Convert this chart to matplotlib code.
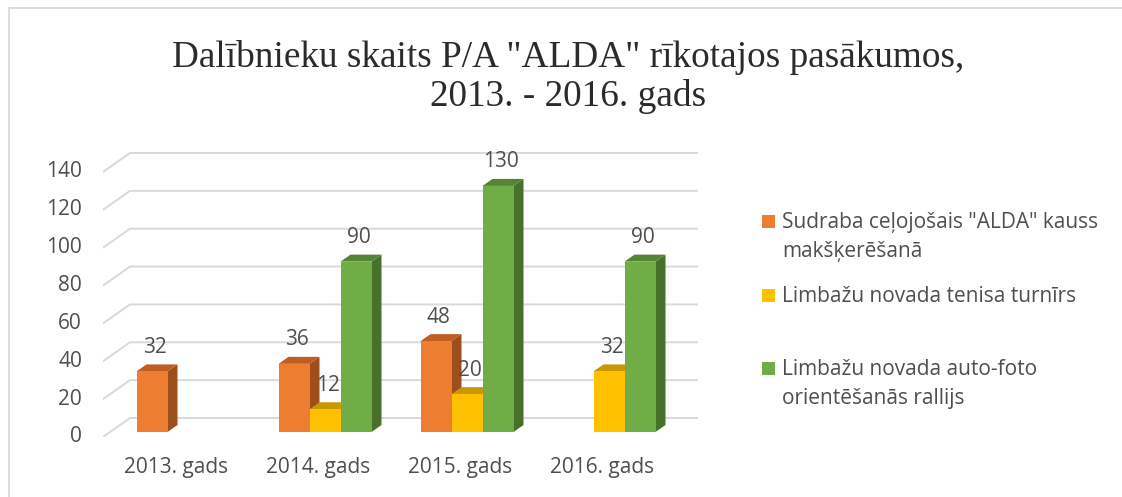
import matplotlib
matplotlib.use('Agg')
import matplotlib.pyplot as plt
from matplotlib.patches import Polygon, Rectangle
import numpy as np

# ---------------- data ----------------
categories = ['2013. gads', '2014. gads', '2015. gads', '2016. gads']
series_names = ['Sudraba ceļojošais "ALDA" kauss\nmakšķerēšanā',
                'Limbažu novada tenisa turnīrs',
                'Limbažu novada auto-foto\norientēšanās rallijs']
sudraba = [32, 36, 48, None]
teniss = [None, 12, 20, 32]
rallijs = [None, 90, 130, 90]
y_ticks = [0, 20, 40, 60, 80, 100, 120, 140]
title = 'Dalībnieku skaits P/A "ALDA" rīkotajos pasākumos,\n2013. - 2016. gads'

# ---------------- style ----------------
front_cols = ['#ED7D31', '#FFC000', '#70AD47']
top_cols = ['#BE5E22', '#C99700', '#568436']
side_cols = ['#9C4E1C', '#B38700', '#47702A']
txt_col = '#4F4F4F'
grid_col = '#D9D9D9'
FONT = 'Open Sans'
FS = 15

W, H = 1122, 497
fig = plt.figure(figsize=(W / 100, H / 100), dpi=100)

# axes geometry (pixel layout)
px_left, px_right, px_bottom, px_top = 103, 698, 437, 140
ax = fig.add_axes([px_left / W, (H - px_bottom) / H,
                   (px_right - px_left) / W, (px_bottom - px_top) / H])
cat_px0, cat_step = 183, 142        # px of category 0 center, px per category
base_px, px_per_unit = 432, 1.893   # px of value 0 at bar front, px per unit
xlo = (px_left - cat_px0) / cat_step
xhi = (px_right - cat_px0) / cat_step
ylo = -(px_bottom - base_px) / px_per_unit
yhi = ylo + (px_bottom - px_top) / px_per_unit
ax.set_xlim(xlo, xhi)
ax.set_ylim(ylo, yhi)
ax.axis('off')

# depth
dx = 10 / cat_step
dy = 7 / px_per_unit
back_off = (base_px - 418) / px_per_unit
x_back = (130 - cat_px0) / cat_step
front_off = ylo

# back wall gridlines + floor diagonal
for g in y_ticks:
    ax.plot([xlo, x_back, xhi], [g + front_off, g + back_off, g + back_off],
            color=grid_col, lw=1.4, zorder=1, solid_capstyle='butt')
    ax.text((82 - cat_px0) / cat_step, g + front_off, str(g), ha='right', va='center',
            fontsize=FS, color=txt_col, family=FONT, clip_on=False)

# category labels
for i, c in enumerate(categories):
    ax.text(i - 0.05, ylo - 31 / px_per_unit, c, ha='center', va='center',
            fontsize=FS, color=txt_col, family=FONT, clip_on=False)

# 3D bars
bw = 31 / cat_step
series = [sudraba, teniss, rallijs]
z = 2
for i in range(len(categories)):
    for j, s in enumerate(series):
        v = s[i]
        if v is None:
            continue
        x0 = i + (j - 1) * bw - bw / 2
        side = Polygon([(x0 + bw, 0), (x0 + bw + dx, dy), (x0 + bw + dx, v + dy), (x0 + bw, v)],
                       closed=True, fc=side_cols[j], ec='none', zorder=z)
        top = Polygon([(x0, v), (x0 + bw, v), (x0 + bw + dx, v + dy), (x0 + dx, v + dy)],
                      closed=True, fc=top_cols[j], ec='none', zorder=z + 0.1)
        front = Rectangle((x0, 0), bw, v, fc=front_cols[j], ec='none', zorder=z + 0.2)
        ax.add_patch(side)
        ax.add_patch(top)
        ax.add_patch(front)
        z += 1
        ax.text(x0 + bw / 2 + 0.02, v + 24 / px_per_unit, str(v), ha='center', va='center',
                fontsize=FS, color=txt_col, family=FONT, zorder=50)

# title
fig.text(568 / W, 1 - 77 / H, title, ha='center', va='center', fontsize=26.8,
         family='Liberation Serif', color='#2B2B2B', linespacing=1.18)

# legend (manual)
leg_baselines = [228, 302, 375]
line_step = 29
for j, name in enumerate(series_names):
    b = leg_baselines[j]
    fig.patches.append(Rectangle((762 / W, 1 - b / H), 13 / W, 13 / H,
                                 transform=fig.transFigure, fc=front_cols[j], ec='none'))
    for k, line in enumerate(name.split('\n')):
        fig.text(782 / W, 1 - (b + k * line_step) / H, line, ha='left', va='baseline',
                 fontsize=FS, color=txt_col, family=FONT)

# chart frame
fig.patches.append(Rectangle((8.5 / W, -0.05), 1.2, 1 - 7.5 / H + 0.05,
                             transform=fig.transFigure, fc='none', ec=grid_col, lw=1.3))

fig.savefig('out.png', dpi=100)
